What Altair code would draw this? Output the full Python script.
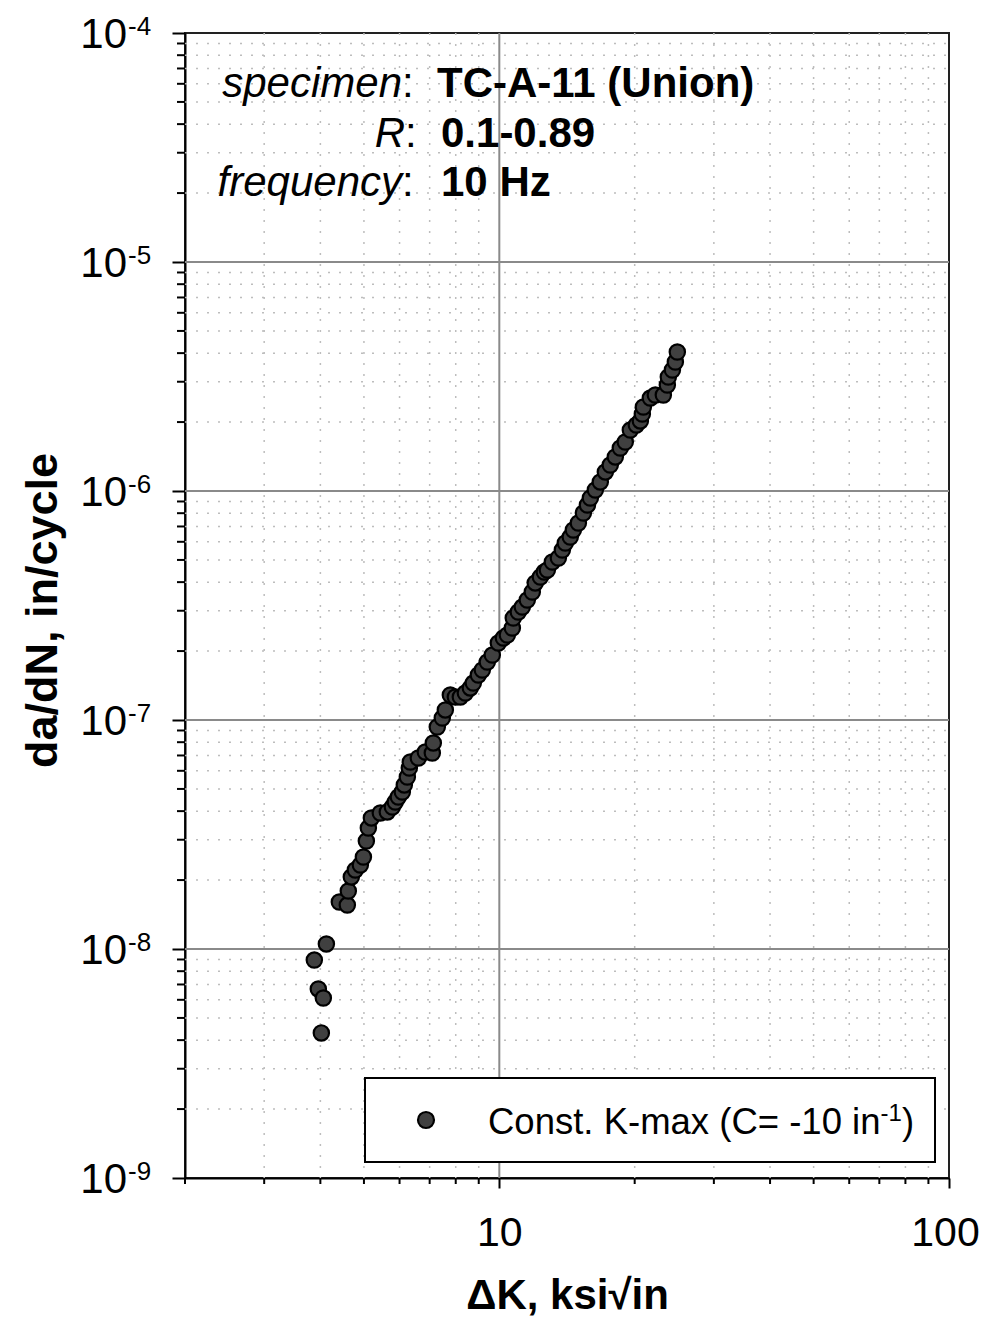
import altair as alt
import pandas as pd

# ---- data ----
dk = [3.878, 3.958, 4.020, 4.061, 4.125, 4.408, 4.592, 4.615, 4.687, 4.784,
      4.909, 4.986, 5.062, 5.114, 5.194, 5.437, 5.635, 5.783, 5.871, 5.963,
      6.086, 6.148, 6.244, 6.308, 6.340, 6.605, 6.846, 7.096, 7.132, 7.279,
      7.468, 7.585, 7.782, 7.984, 8.191, 8.403, 8.620, 8.754, 8.982, 9.167,
      9.404, 9.647, 9.949, 10.21, 10.42, 10.69, 10.74, 11.02, 11.25, 11.54,
      11.84, 12.02, 12.34, 12.59, 12.79, 13.12, 13.53, 13.81, 14.02, 14.38,
      14.61, 14.99, 15.38, 15.70, 15.94, 16.35, 16.77, 17.21, 17.65, 18.11,
      18.58, 19.06, 19.56, 20.17, 20.59, 20.80, 20.91, 21.67, 22.23, 23.16,
      23.64, 23.76, 24.26, 24.63, 24.88]
dadn = [8.95e-9, 6.69e-9, 4.30e-9, 6.11e-9, 1.052e-8, 1.604e-8, 1.556e-8, 1.792e-8, 2.063e-8, 2.213e-8,
        2.327e-8, 2.522e-8, 2.962e-8, 3.376e-8, 3.734e-8, 3.926e-8, 3.966e-8, 4.170e-8, 4.385e-8, 4.611e-8,
        4.848e-8, 5.203e-8, 5.638e-8, 6.171e-8, 6.555e-8, 6.825e-8, 7.249e-8, 7.176e-8, 7.937e-8, 9.32e-8,
        1.020e-7, 1.106e-7, 1.286e-7, 1.260e-7, 1.260e-7, 1.312e-7, 1.380e-7, 1.450e-7, 1.572e-7, 1.653e-7,
        1.792e-7, 1.922e-7, 2.169e-7, 2.281e-7, 2.351e-7, 2.522e-7, 2.789e-7, 2.962e-7, 3.114e-7, 3.342e-7,
        3.622e-7, 3.966e-7, 4.212e-7, 4.429e-7, 4.519e-7, 4.898e-7, 5.098e-7, 5.526e-7, 5.929e-7, 6.297e-7,
        6.756e-7, 7.249e-7, 8.016e-7, 8.687e-7, 9.32e-7, 1.010e-6, 1.095e-6, 1.211e-6, 1.299e-6, 1.408e-6,
        1.541e-6, 1.637e-6, 1.846e-6, 1.942e-6, 2.022e-6, 2.169e-6, 2.327e-6, 2.547e-6, 2.626e-6, 2.626e-6,
        2.903e-6, 3.146e-6, 3.376e-6, 3.659e-6, 4.046e-6]

x_major_ticks = [10, 100]
x_minor_ticks = [2, 3, 4, 5, 6, 7, 8, 9, 20, 30, 40, 50, 60, 70, 80, 90]
x_minor_grid = [3, 4, 5, 6, 7, 8, 9, 20, 30, 40, 50, 60, 70, 80, 90]
x_major_grid = [10]
y_major_ticks = [1e-9, 1e-8, 1e-7, 1e-6, 1e-5, 1e-4]
y_tick_exponents = ["-9", "-8", "-7", "-6", "-5", "-4"]
y_major_grid = [1e-8, 1e-7, 1e-6, 1e-5]
y_minor_ticks = [k * 10.0 ** n for n in range(-9, -4) for k in range(2, 10)]

legend_main = "Const. K-max (C= -10 in"
legend_sup = "-1"
legend_close = ")"
x_title = "\u0394K, ksi\u221ain"
y_title = "da/dN, in/cycle"

W, H = 764, 1145
FONT = "Liberation Sans"

xs = alt.Scale(type="log", domain=[2, 100], nice=False)
ys = alt.Scale(type="log", domain=[1e-9, 1e-4], nice=False)

ax_x = alt.Axis(values=x_major_ticks, format="d", grid=False,
                tickSize=10, tickWidth=2, tickColor="black",
                domainColor="black", domainWidth=2,
                labelFont=FONT, labelFontSize=41, labelColor="black",
                labelPadding=25, labelFlush=False, labelOverlap=False,
                labelOffset={"condition": {"test": "datum.value == 100", "value": -4}, "value": 0},
                title=x_title, titleFont=FONT, titleFontSize=42,
                titleFontWeight="bold", titleColor="black",
                titleX=W / 2, titleY=130, titleAlign="center",
                titleBaseline="alphabetic")
ax_y = alt.Axis(values=y_major_ticks, labels=False, grid=False,
                tickSize=13, tickWidth=2, tickColor="black",
                domainColor="black", domainWidth=2,
                title=y_title, titleFont=FONT, titleFontSize=45,
                titleFontWeight="bold", titleColor="black",
                titleX=-143, titleY=577, titleAngle=270,
                titleAlign="center", titleBaseline="middle")

X = lambda: alt.X("x:Q", scale=xs, axis=ax_x)
Y = lambda: alt.Y("y:Q", scale=ys, axis=ax_y)

one = pd.DataFrame({"a": [0]})

layers = []

# minor dotted grid
layers.append(alt.Chart(pd.DataFrame({"x": x_minor_grid})).mark_rule(
    color="#bdbdbd", strokeWidth=1.5, strokeDash=[2, 9]).encode(
    x=X(), y=alt.value(0), y2=alt.value(H)))
layers.append(alt.Chart(pd.DataFrame({"y": y_minor_ticks})).mark_rule(
    color="#bdbdbd", strokeWidth=1.5, strokeDash=[2, 9]).encode(
    y=Y(), x=alt.value(0), x2=alt.value(W)))
# major grid
layers.append(alt.Chart(pd.DataFrame({"x": x_major_grid})).mark_rule(
    color="#8a8a8a", strokeWidth=2).encode(
    x=X(), y=alt.value(0), y2=alt.value(H)))
layers.append(alt.Chart(pd.DataFrame({"y": y_major_grid})).mark_rule(
    color="#8a8a8a", strokeWidth=2).encode(
    y=Y(), x=alt.value(0), x2=alt.value(W)))
# minor ticks
layers.append(alt.Chart(pd.DataFrame({"y": y_minor_ticks})).mark_rule(
    color="black", strokeWidth=2).encode(
    y=Y(), x=alt.value(-8), x2=alt.value(0)))
layers.append(alt.Chart(pd.DataFrame({"x": x_minor_ticks})).mark_rule(
    color="black", strokeWidth=2).encode(
    x=X(), y=alt.value(H), y2=alt.value(H + 6)))

# y tick labels 10^n
ylab = pd.DataFrame({"y": y_major_ticks, "e": y_tick_exponents})
layers.append(alt.Chart(ylab).mark_text(
    font=FONT, fontSize=42, align="right", baseline="alphabetic", dy=15,
    color="black").encode(y=Y(), x=alt.value(-58), text=alt.value("10")))
layers.append(alt.Chart(ylab).mark_text(
    font=FONT, fontSize=26, align="left", baseline="alphabetic", dy=2,
    color="black").encode(y=Y(), x=alt.value(-57), text="e:N"))

# data points
pts = pd.DataFrame({"x": dk, "y": dadn})
layers.append(alt.Chart(pts).mark_circle(
    size=235, fill="#404040", stroke="#000000", strokeWidth=2.2,
    opacity=1, fillOpacity=1, strokeOpacity=1).encode(x=X(), y=Y()))


def txt(s, x, y, size=42, style="normal", weight="normal", align="left"):
    return alt.Chart(one).mark_text(
        font=FONT, fontSize=size, fontStyle=style, fontWeight=weight,
        align=align, baseline="alphabetic", color="black").encode(
        x=alt.value(x), y=alt.value(y), text=alt.value(s))


# annotation block
layers.append(txt("specimen", 217, 64, style="italic", align="right"))
layers.append(txt(":", 217, 64))
layers.append(txt("TC-A-11 (Union)", 252, 64, weight="bold"))
layers.append(txt("R", 220, 114, style="italic", align="right"))
layers.append(txt(":", 220, 114))
layers.append(txt("0.1-0.89", 256, 114, weight="bold"))
layers.append(txt("frequency", 217, 163, style="italic", align="right"))
layers.append(txt(":", 217, 163))
layers.append(txt("10 Hz", 256, 163, weight="bold"))

# legend box
layers.append(alt.Chart(one).mark_rect(
    fill="white", stroke="black", strokeWidth=2).encode(
    x=alt.value(180), x2=alt.value(750), y=alt.value(1045), y2=alt.value(1129)))
layers.append(alt.Chart(one).mark_circle(
    size=256, fill="#404040", stroke="#000000", strokeWidth=2.2,
    opacity=1).encode(x=alt.value(241), y=alt.value(1087)))
layers.append(txt(legend_main, 303, 1101, size=36.5))
layers.append(txt(legend_sup, 695.5, 1088, size=24))
layers.append(txt(legend_close, 717, 1101, size=36.5))

chart = alt.layer(*layers).properties(
    width=W, height=H,
    autosize=alt.AutoSizeParams(type="none"),
    padding={"left": 177, "top": 25, "right": 32, "bottom": 140},
).configure_view(stroke="#222222", strokeWidth=2)

chart.save("out.html", embed_options={"renderer": "svg", "actions": False})
